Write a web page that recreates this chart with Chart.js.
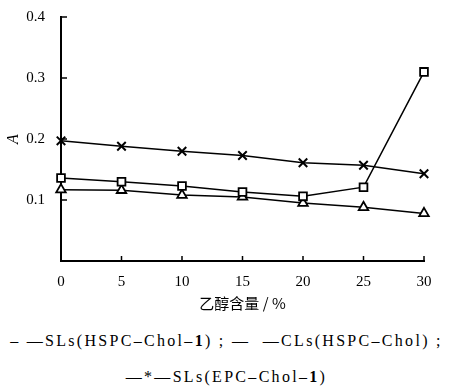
<!DOCTYPE html>
<html>
<head>
<meta charset="utf-8">
<script src="https://cdn.jsdelivr.net/npm/chart.js@4"></script>
<style>
  body { margin: 0; background: #fff; }
  #wrap { position: relative; width: 453px; height: 392px; }
  #c { position: absolute; left: 0; top: 0; }
  .leg { position: absolute; left: 0; width: 453px; text-align: center; white-space: nowrap;
         font-family: "Liberation Serif", serif; font-size: 16px; letter-spacing: 2.3px; color: #000; }
</style>
</head>
<body>
<div id="wrap">
  <canvas id="c" width="453" height="312"></canvas>
  <div class="leg" style="top:332px">– —SLs(HSPC–Chol–<b>1</b>) ; —&nbsp;&nbsp;—CLs(HSPC–Chol) ;</div>
  <div class="leg" style="top:368px">—*—SLs(EPC–Chol–<b>1</b>)</div>
</div>
<script>
const ethanol = [0, 5, 10, 15, 20, 25, 30];
const crossSeries = [0.197, 0.188, 0.180, 0.173, 0.161, 0.157, 0.143];
const squareSeries = [0.136, 0.130, 0.123, 0.113, 0.106, 0.121, 0.310];
const triangleSeries = [0.117, 0.116, 0.108, 0.105, 0.095, 0.088, 0.078];
const yTicks = [0.1, 0.2, 0.3, 0.4];

const toXY = arr => arr.map((v, i) => ({x: ethanol[i], y: v}));

// short inward tick marks on both axes
const innerTicks = {
  id: 'innerTicks',
  afterDraw(chart) {
    const ctx = chart.ctx, xs = chart.scales.x, ys = chart.scales.y;
    ctx.save();
    ctx.strokeStyle = '#000';
    ctx.lineWidth = 1.5;
    ctx.beginPath();
    ethanol.forEach(v => {
      const px = xs.getPixelForValue(v);
      ctx.moveTo(px, ys.bottom); ctx.lineTo(px, ys.bottom - 5);
    });
    yTicks.forEach(v => {
      const py = ys.getPixelForValue(v);
      ctx.moveTo(xs.left, py); ctx.lineTo(xs.left + 6, py);
    });
    ctx.stroke();
    ctx.restore();
  }
};

const serif = {family: '"Liberation Serif", serif', size: 15};

new Chart(document.getElementById('c'), {
  type: 'line',
  data: {
    datasets: [
      {label: 'cross', data: toXY(crossSeries), pointStyle: 'crossRot', pointRadius: 6,
       pointBorderWidth: 2, borderColor: '#000', pointBorderColor: '#000', borderWidth: 1.5},
      {label: 'square', data: toXY(squareSeries), pointStyle: 'rect', pointRadius: 5.5,
       pointBorderWidth: 1.8, borderColor: '#000', pointBorderColor: '#000',
       pointBackgroundColor: '#fff', borderWidth: 1.5},
      {label: 'triangle', data: toXY(triangleSeries), pointStyle: 'triangle', pointRadius: 5.5,
       pointBorderWidth: 1.8, borderColor: '#000', pointBorderColor: '#000',
       pointBackgroundColor: '#fff', borderWidth: 1.5}
    ]
  },
  options: {
    responsive: false,
    animation: false,
    clip: false,
    layout: {padding: {top: 16, right: 29, bottom: 0, left: 4}},
    plugins: {legend: {display: false}, tooltip: {enabled: false}},
    elements: {line: {tension: 0}},
    scales: {
      x: {
        type: 'linear', min: 0, max: 30,
        afterFit: s => { s.height = 51; },
        ticks: {stepSize: 5, color: '#000', font: serif, padding: 4, maxRotation: 0},
        grid: {display: false},
        border: {color: '#000', width: 2},
        title: {display: true, text: '乙醇含量 / %', color: '#000',
                font: {family: '"Noto Sans CJK SC", sans-serif', size: 15}, padding: 0}
      },
      y: {
        min: 0, max: 0.4,
        afterFit: s => { s.width = 57; },
        ticks: {stepSize: 0.1, color: '#000', font: serif, padding: 8,
                callback: v => v === 0 ? null : v.toFixed(1)},
        grid: {display: false},
        border: {color: '#000', width: 2},
        title: {display: true, text: 'A', color: '#000',
                font: {family: '"Liberation Serif", serif', size: 16, style: 'italic'}, padding: 0}
      }
    }
  },
  plugins: [innerTicks]
});
</script>
</body>
</html>
